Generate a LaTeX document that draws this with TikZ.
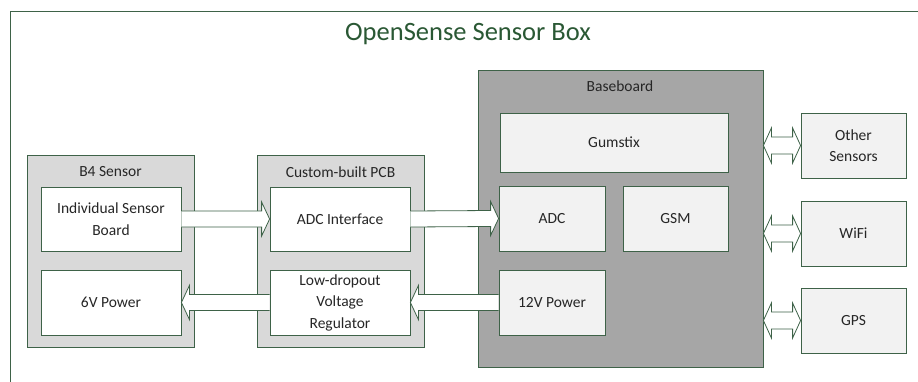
\documentclass[tikz,border=0pt]{standalone}
\usepackage{fontspec}
\setmainfont{Carlito}
\usetikzlibrary{calc}
\definecolor{dg}{RGB}{62,98,72}
\definecolor{tg}{RGB}{42,88,52}
\definecolor{lgray}{RGB}{217,217,217}
\definecolor{dgray}{RGB}{166,166,166}
\definecolor{wgray}{RGB}{242,242,242}
\definecolor{txt}{RGB}{38,38,38}
\tikzset{
  box/.style={draw=dg, line width=0.8pt, align=center, inner sep=0pt, text=txt,
    font=\fontsize{15.5}{21.5}\selectfont},
  lbl/.style={inner sep=0pt, text=txt, font=\fontsize{15.5}{21.5}\selectfont},
  arr/.style={draw=dg, line width=0.8pt, fill=white, line join=miter},
}
\newcommand\fatarr[3]{%
  \draw[arr] ($(#1)+(0,-8)$) -- ($(#2)+({-8*#3},-8)$) -- ($(#2)+({-8*#3},-17)$) -- (#2)
    -- ($(#2)+({-8*#3},17)$) -- ($(#2)+({-8*#3},8)$) -- ($(#1)+(0,8)$);}
\newcommand\dblarr[2]{%
  \draw[arr] (#1) -- ($(#1)+(8,-17.5)$) -- ($(#1)+(8,-8.5)$) -- ($(#2)+(-8,-8.5)$)
    -- ($(#2)+(-8,-17.5)$) -- (#2) -- ($(#2)+(-8,17.5)$) -- ($(#2)+(-8,8.5)$)
    -- ($(#1)+(8,8.5)$) -- ($(#1)+(8,17.5)$) -- cycle;}
\begin{document}
\begin{tikzpicture}[x=1pt,y=-1pt]
\useasboundingbox (0,0) rectangle (918,381);
\fill[white] (0,0) rectangle (918,381);
\draw[dg, line width=0.8pt] (10,11) rectangle (940,400);
\node[text=tg, inner sep=0pt, font=\fontsize{26.5}{30}\selectfont] (title) at (468,34) {OpenSense Sensor Box};
% B4 sensor
\node[box, fill=lgray, minimum width=167pt, minimum height=192pt] (b4) at (110.5,251) {};
\node[lbl] (b4l) at (110.5,172) {B4 Sensor};
\node[box, fill=white, minimum width=140pt, minimum height=64pt] (isb) at (111,219) {Individual Sensor\\Board};
\node[box, fill=white, minimum width=140pt, minimum height=65pt] (six) at (111,302.5) {6V Power};
% PCB
\node[box, fill=lgray, minimum width=167pt, minimum height=192pt] (pcb) at (340.5,251) {};
\node[lbl] (pcbl) at (340.5,172) {Custom-built PCB};
\node[box, fill=white, minimum width=140pt, minimum height=64pt] (adci) at (340,219) {ADC Interface};
\node[box, fill=white, minimum width=140pt, minimum height=65pt] (ldo) at (340,302.5) {Low-dropout\\Voltage\\Regulator};
% Baseboard
\node[box, fill=dgray, minimum width=285pt, minimum height=297pt] (base) at (620.5,218.5) {};
\node[lbl] (basel) at (620,86) {Baseboard};
\node[box, fill=wgray, minimum width=228pt, minimum height=59pt] (gum) at (614,142.5) {Gumstix};
\node[box, fill=wgray, minimum width=106pt, minimum height=65pt] (adc) at (552,218.5) {ADC};
\node[box, fill=wgray, minimum width=105pt, minimum height=65pt] (gsm) at (675.5,218.5) {GSM};
\node[box, fill=wgray, minimum width=106pt, minimum height=65pt] (v12) at (552,302.5) {12V Power};
% right
\node[box, fill=wgray, minimum width=105pt, minimum height=65pt] (oth) at (853.5,145.5) {Other\\Sensors};
\node[box, fill=wgray, minimum width=105pt, minimum height=65pt] (wifi) at (853.5,233.5) {WiFi};
\node[box, fill=wgray, minimum width=105pt, minimum height=65pt] (gps) at (853.5,320.5) {GPS};
% arrows
\fatarr{isb.east}{adci.west}{1}
\fatarr{adci.east}{adc.west}{1}
\fatarr{v12.west}{ldo.east}{-1}
\fatarr{ldo.west}{six.east}{-1}
\dblarr{base.east |- oth.west}{oth.west}
\dblarr{base.east |- wifi.west}{wifi.west}
\dblarr{base.east |- gps.west}{gps.west}
\end{tikzpicture}
\end{document}
